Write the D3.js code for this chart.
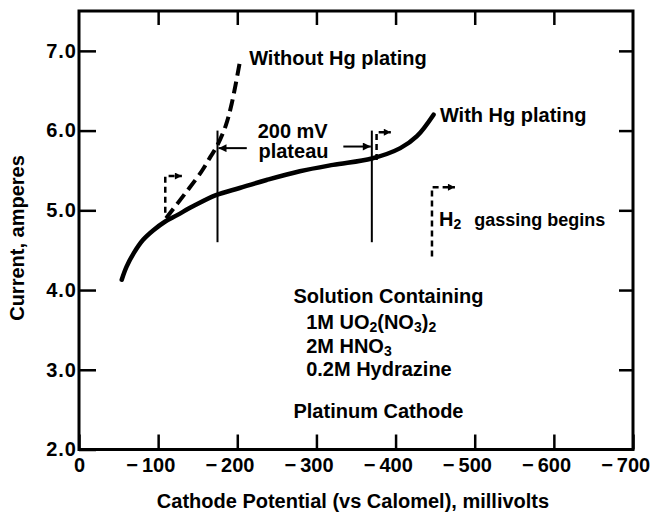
<!DOCTYPE html>
<html>
<head>
<meta charset="utf-8">
<script src="https://cdn.jsdelivr.net/npm/d3@7"></script>
<style>
  body { margin: 0; background: #fff; }
  text { font-family: "Liberation Sans", Arial, Helvetica, sans-serif; font-weight: bold; fill: #000; }
</style>
</head>
<body>
<svg id="chart" width="651" height="515"></svg>
<script>
// potential in mV (vs calomel), current in amperes
const xTicks = [0, -100, -200, -300, -400, -500, -600, -700];
const yTicks = [2, 3, 4, 5, 6, 7];

// with Hg plating (solid)
const withHgMv = [-54, -60, -69, -81, -94, -109, -124, -144, -173, -203, -237, -279, -321, -370, -406, -427, -448];
const withHgAmps = [4.13, 4.29, 4.46, 4.63, 4.75, 4.86, 4.94, 5.05, 5.19, 5.28, 5.38, 5.49, 5.57, 5.65, 5.78, 5.93, 6.20];

// without Hg plating (dashed)
const withoutHgMv = [-110, -134, -155, -166, -174, -185, -193, -203];
const withoutHgAmps = [4.90, 5.21, 5.49, 5.67, 5.80, 6.05, 6.34, 6.85];

// 200 mV plateau limits
const plateauMv = [-175, -370];
const plateauAmps = [4.6, 6.0];

// dashed "gassing begins" markers: potential, bottom amps, top amps, arrow tip potential
const gasMv = [-109, -376, -446];
const gasLow = [4.97, 5.63, 4.42];
const gasHigh = [5.43, 5.98, 5.29];
const gasTip = [-130, -394, -475];

const margin = { top: 11, right: 18, bottom: 65.5, left: 79 };
const width = 651 - margin.left - margin.right;
const height = 515 - margin.top - margin.bottom;

const svg = d3.select('#chart');
const g = svg.append('g')
  .attr('transform', 'translate(' + margin.left + ',' + margin.top + ')');

const x = d3.scaleLinear().domain([0, -700]).range([0, width]);
const y = d3.scaleLinear().domain([2, 7.5]).range([height, 0]);

const defs = svg.append('defs');
defs.append('marker')
  .attr('id', 'head')
  .attr('viewBox', '0 0 10 10')
  .attr('refX', 10).attr('refY', 5)
  .attr('markerWidth', 11).attr('markerHeight', 8)
  .attr('markerUnits', 'userSpaceOnUse')
  .attr('orient', 'auto')
  .append('path').attr('d', 'M0,0L10,5L0,10z').attr('fill', '#000');
defs.append('marker')
  .attr('id', 'smallhead')
  .attr('viewBox', '0 0 10 10')
  .attr('refX', 10).attr('refY', 5)
  .attr('markerWidth', 9).attr('markerHeight', 7)
  .attr('markerUnits', 'userSpaceOnUse')
  .attr('orient', 'auto')
  .append('path').attr('d', 'M0,0L10,5L0,10z').attr('fill', '#000');

// axes (inward ticks on all four sides)
const xAxis = g.append('g')
  .attr('transform', 'translate(0,' + height + ')')
  .call(d3.axisBottom(x).tickValues(xTicks).tickSize(-15).tickPadding(8));
xAxis.selectAll('.tick text')
  .text((d) => Math.abs(d))
  .style('font-size', '20px');
xAxis.selectAll('.tick').each(function (d) {
  if (d === 0) return;
  const t = d3.select(this).select('text');
  const w = t.node().getComputedTextLength();
  d3.select(this).append('text')
    .attr('x', -w / 2 - 4)
    .attr('y', 8)
    .attr('dy', '0.71em')
    .attr('text-anchor', 'end')
    .style('font-size', '20px')
    .text('\u2212');
});

const yAxis = g.append('g')
  .call(d3.axisLeft(y).tickValues(yTicks).tickSize(-17).tickPadding(2).tickFormat(d3.format('.1f')));
yAxis.selectAll('.tick text')
  .style('font-size', '20px')
  .style('letter-spacing', '1px');

g.append('g')
  .call(d3.axisTop(x).tickValues(xTicks.slice(1, -1)).tickSize(-14).tickFormat(''));
g.append('g')
  .attr('transform', 'translate(' + width + ',0)')
  .call(d3.axisRight(y).tickValues(yTicks.slice(1)).tickSize(-14).tickFormat(''));

g.selectAll('.domain').remove();
g.selectAll('.tick line').attr('stroke', '#000').attr('stroke-width', 2.5);
g.selectAll('.tick text').attr('fill', '#000');

g.append('rect')
  .attr('width', width).attr('height', height)
  .attr('fill', 'none').attr('stroke', '#000').attr('stroke-width', 3);

// curves
const line = d3.line()
  .x((d) => x(d[0]))
  .y((d) => y(d[1]))
  .curve(d3.curveCatmullRom.alpha(0.5));

g.append('path')
  .datum(d3.zip(withHgMv, withHgAmps))
  .attr('d', line)
  .attr('fill', 'none').attr('stroke', '#000')
  .attr('stroke-width', 4.5).attr('stroke-linecap', 'round');

g.append('path')
  .datum(d3.zip(withoutHgMv, withoutHgAmps))
  .attr('d', line)
  .attr('fill', 'none').attr('stroke', '#000')
  .attr('stroke-width', 4).attr('stroke-dasharray', '12,6');

// plateau limits and arrows
g.selectAll('line.plateau')
  .data(plateauMv)
  .enter().append('line')
  .attr('class', 'plateau')
  .attr('x1', (d) => x(d)).attr('x2', (d) => x(d))
  .attr('y1', y(plateauAmps[1])).attr('y2', y(plateauAmps[0]))
  .attr('stroke', '#000').attr('stroke-width', 2);

g.append('line')
  .attr('x1', x(-212)).attr('x2', x(plateauMv[0]) + 1)
  .attr('y1', y(5.78)).attr('y2', y(5.78))
  .attr('stroke', '#000').attr('stroke-width', 2)
  .attr('marker-end', 'url(#head)');
g.append('line')
  .attr('x1', x(-334)).attr('x2', x(plateauMv[1]) - 1)
  .attr('y1', y(5.80)).attr('y2', y(5.80))
  .attr('stroke', '#000').attr('stroke-width', 2)
  .attr('marker-end', 'url(#head)');

// dashed gassing markers
gasMv.forEach((mv, i) => {
  g.append('path')
    .attr('d', 'M' + x(mv) + ',' + y(gasLow[i]) + 'V' + y(gasHigh[i]) + 'H' + x(gasTip[i]))
    .attr('fill', 'none').attr('stroke', '#000')
    .attr('stroke-width', 2.5).attr('stroke-dasharray', '6,4')
    .attr('marker-end', 'url(#smallhead)');
});

// labels
const label = (px, py, parts, anchor) => {
  const t = g.append('text')
    .attr('x', px).attr('y', py)
    .attr('text-anchor', anchor || 'start')
    .style('font-size', '20px');
  parts.forEach((p) => {
    const s = t.append('tspan').text(p[0]);
    if (p[1] === 'sub') s.attr('dy', 3).style('font-size', '14px');
    if (p[1] === 'up') s.attr('dy', -3);
    if (p[2]) s.attr('dx', p[2]);
    if (p[3]) s.style('font-size', p[3]);
  });
  return t;
};

label(x(-215), y(6.824), [['Without Hg plating']]);
label(x(-456), y(6.113), [['With Hg plating']]);
label(x(-270), y(5.905), [['200 mV']], 'middle');
label(x(-271), y(5.654), [['plateau']], 'middle');
label(x(-455), y(4.804), [['H'], ['2', 'sub'], ['gassing begins', 'up', 13, '18px']]);

label(x(-271), y(3.834), [['Solution Containing']]);
label(x(-287), y(3.51), [['1M UO'], ['2', 'sub'], ['(NO', 'up'], ['3', 'sub'], [')', 'up'], ['2', 'sub']]);
label(x(-287), y(3.213), [['2M HNO'], ['3', 'sub']]);
label(x(-287), y(2.922), [['0.2M Hydrazine']]);
label(x(-271), y(2.399), [['Platinum Cathode']]);

// axis titles
svg.append('text')
  .attr('x', margin.left + width / 2 - 3)
  .attr('y', 508)
  .attr('text-anchor', 'middle')
  .style('font-size', '20px')
  .text('Cathode Potential (vs Calomel), millivolts');

svg.append('text')
  .attr('transform', 'translate(24,238)rotate(-90)')
  .attr('text-anchor', 'middle')
  .style('font-size', '20px')
  .text('Current, amperes');
</script>
</body>
</html>
